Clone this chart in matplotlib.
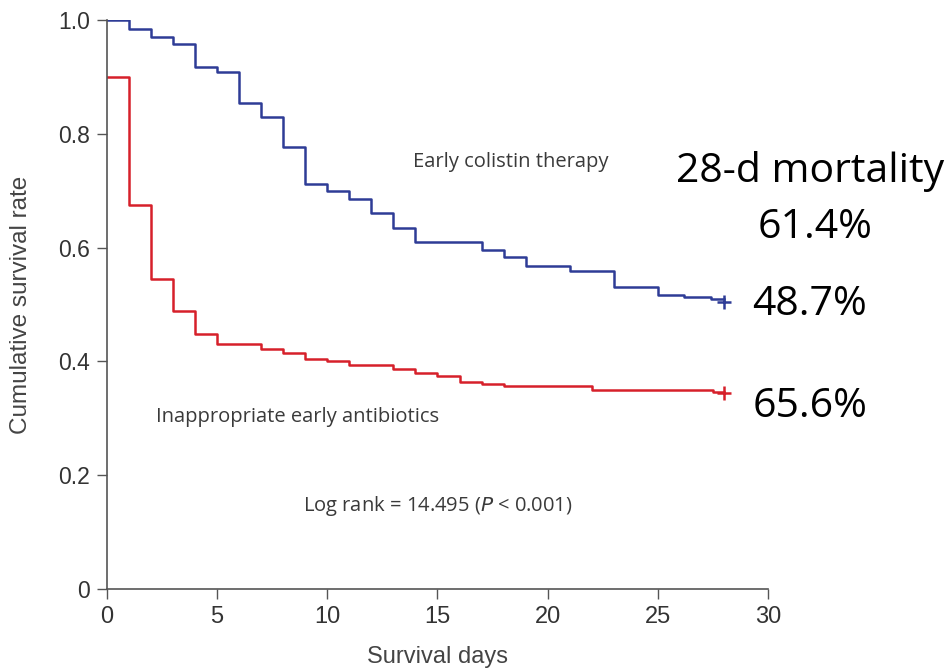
import matplotlib
matplotlib.use("Agg")
import matplotlib.pyplot as plt

# Kaplan-Meier step data (day, cumulative survival)
colistin_days = [0, 1, 2, 3, 4, 5, 6, 7, 8, 9, 10, 11, 12, 13, 14, 17, 18, 19,
                 21, 23, 25, 26.2, 27.4, 28]
colistin_surv = [1.0, 0.985, 0.971, 0.958, 0.918, 0.908, 0.855, 0.829, 0.777,
                 0.712, 0.700, 0.686, 0.660, 0.634, 0.609, 0.595, 0.583, 0.568,
                 0.559, 0.531, 0.517, 0.514, 0.510, 0.510]

inapp_days = [0, 1, 2, 3, 4, 5, 7, 8, 9, 10, 11, 13, 14, 15, 16, 17, 18, 22,
              27.5, 28]
inapp_surv = [0.900, 0.675, 0.545, 0.489, 0.448, 0.431, 0.421, 0.414, 0.405,
              0.400, 0.394, 0.386, 0.379, 0.374, 0.364, 0.361, 0.357, 0.349,
              0.346, 0.346]

x_ticks = [0, 5, 10, 15, 20, 25, 30]
y_ticks = [0, 0.2, 0.4, 0.6, 0.8, 1.0]
y_tick_labels = ["0", "0.2", "0.4", "0.6", "0.8", "1.0"]

mortality_title = "28-d mortality"
mortality_overall = "61.4%"
mortality_colistin = "48.7%"
mortality_inapp = "65.6%"

BLUE = "#2e3c96"
RED = "#d6202a"
AXIS = "#555555"
NOTE = "#3a3a3a"
NARROW = ["Liberation Sans Narrow", "Liberation Sans", "DejaVu Sans"]
ARIAL = ["Liberation Sans", "DejaVu Sans"]
HUMAN = ["Open Sans", "DejaVu Sans"]

W, H = 953, 671
fig = plt.figure(figsize=(W / 100, H / 100), dpi=100)
ax = fig.add_axes([107 / W, 1 - 589 / H, 661 / W, 569 / H])

ax.step(colistin_days, colistin_surv, where="post", color=BLUE, lw=1.8)
ax.step(inapp_days, inapp_surv, where="post", color=RED, lw=1.8)
# censoring marks at day 28
ax.plot(colistin_days[-1], colistin_surv[-1] - 0.006, marker="+", color=BLUE,
        ms=10, mew=1.8)
ax.plot(inapp_days[-1], inapp_surv[-1] - 0.002, marker="+", color=RED,
        ms=10, mew=1.8)

ax.set_xlim(0, 30)
ax.set_ylim(0, 1.0)
ax.set_xticks(x_ticks)
ax.set_yticks(y_ticks)
ax.set_yticklabels(y_tick_labels)

for side in ["top", "right"]:
    ax.spines[side].set_visible(False)
for side in ["left", "bottom"]:
    ax.spines[side].set_color(AXIS)
    ax.spines[side].set_linewidth(1.2)
ax.tick_params(direction="out", length=7, width=1.0, color=AXIS,
               labelcolor="#333333", pad=5)
for lab in ax.get_yticklabels():
    lab.set_family(ARIAL)
    lab.set_fontsize(16.5)
for lab in ax.get_xticklabels():
    lab.set_family(NARROW)
    lab.set_fontsize(17)

ax.set_xlabel("Survival days", fontsize=17, color="#444444", family=NARROW)
ax.xaxis.set_label_coords(0.5, -0.1)
ax.set_ylabel("Cumulative survival rate", fontsize=17.5, color="#444444",
              family=NARROW)
ax.yaxis.set_label_coords(-0.114, 0.5)

ax.text(18.34, 0.75, "Early colistin therapy", fontsize=14.5, color=NOTE,
        ha="center", va="center", family=HUMAN)
ax.text(8.67, 0.302, "Inappropriate early antibiotics", fontsize=14.5,
        color=NOTE, ha="center", va="center", family=HUMAN)
ax.text(15.0, 0.146, r"Log rank = 14.495 ($\it{P}$ < 0.001)", fontsize=14.5,
        color=NOTE, ha="center", va="center", family=HUMAN)

big = dict(fontsize=29.5, color="black", ha="center", va="baseline",
           family=["Open Sans", "DejaVu Sans"])
fig.text(810 / W, 1 - 182 / H, mortality_title, **big)
fig.text(815 / W, 1 - 238 / H, mortality_overall, **big)
fig.text(810 / W, 1 - 315 / H, mortality_colistin, **big)
fig.text(810 / W, 1 - 417 / H, mortality_inapp, **big)

fig.savefig("out.png", dpi=100)
